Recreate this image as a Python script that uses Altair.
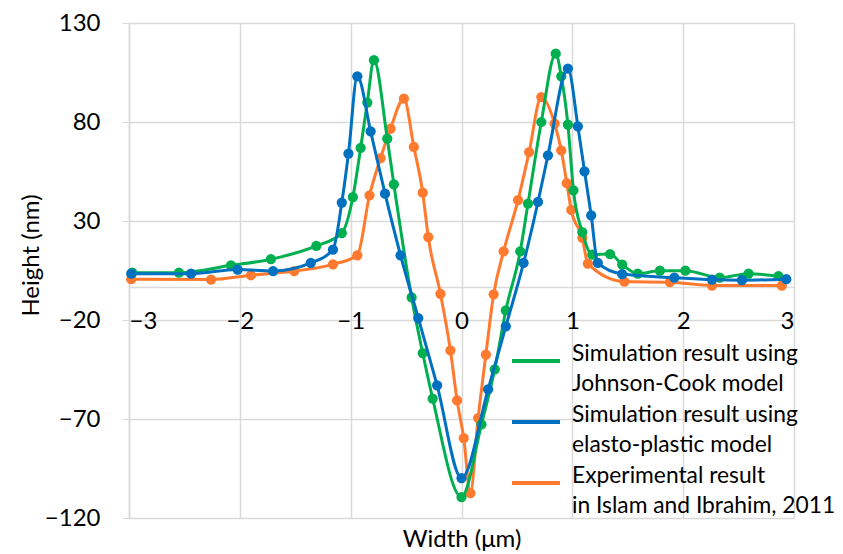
import altair as alt
import pandas as pd

# ---- data ----
series_names = [
    "Simulation result using|Johnson-Cook model",
    "Simulation result using|elasto-plastic model",
    "Experimental result|in Islam and Ibrahim, 2011",
]
series_colors = ["#00B050", "#0070C0", "#FF7A2F"]

jc_x = [-2.97, -2.55, -2.08, -1.72, -1.31, -1.08, -0.98, -0.91, -0.85, -0.79, -0.67, -0.61,
        -0.45, -0.35, -0.26, 0.00, 0.18, 0.30, 0.40, 0.53, 0.60, 0.72, 0.85, 0.90, 0.96,
        1.01, 1.09, 1.18, 1.34, 1.45, 1.59, 1.79, 2.02, 2.33, 2.59, 2.86]
jc_y = [3.9, 3.9, 7.6, 10.7, 17.4, 23.9, 42.1, 66.9, 89.8, 111.2, 71.6, 48.5,
        -8.6, -36.7, -59.7, -109.4, -72.7, -44.9, -15.1, 14.7, 38.8, 80.0, 114.5, 103.1, 78.7,
        45.5, 24.4, 13.0, 13.3, 8.0, 3.4, 4.9, 4.9, 1.4, 3.4, 2.1]

ep_x = [-2.98, -2.44, -2.02, -1.70, -1.36, -1.16, -1.08, -1.02, -0.94, -0.82, -0.69, -0.55,
        -0.39, -0.22, 0.00, 0.24, 0.40, 0.56, 0.69, 0.78, 0.96, 1.05, 1.11, 1.17, 1.23,
        1.45, 1.92, 2.26, 2.53, 2.93]
ep_y = [3.4, 3.4, 5.5, 4.7, 8.8, 15.6, 39.3, 64.0, 103.1, 75.3, 43.8, 12.7,
        -19.0, -53.0, -99.8, -55.0, -23.2, 8.8, 39.6, 63.2, 107.0, 77.8, 55.1, 32.9, 8.8,
        3.2, 1.4, 0.4, 0.1, 0.6]

ex_x = [-2.98, -2.26, -1.90, -1.51, -1.16, -0.94, -0.83, -0.73, -0.64, -0.52, -0.43, -0.35,
        -0.30, -0.19, -0.10, -0.04, 0.02, 0.08, 0.15, 0.22, 0.29, 0.38, 0.51, 0.61, 0.72,
        0.84, 0.90, 0.95, 0.99, 1.09, 1.14, 1.47, 1.88, 2.26, 2.89]
ex_y = [0.6, 0.4, 2.6, 4.7, 8.1, 12.7, 43.0, 61.8, 76.7, 91.8, 67.4, 44.3,
        21.9, -6.8, -35.3, -60.6, -79.6, -107.4, -69.5, -37.5, -7.0, 14.7, 40.5, 64.8, 92.6,
        79.2, 65.7, 49.1, 35.6, 21.5, 8.5, -0.6, -0.9, -2.6, -2.6]

x_ticks = [-3, -2, -1, 0, 1, 2, 3]
y_ticks = [-120, -70, -20, 30, 80, 130]

frames = []
for name, xs, ys in zip(series_names, [jc_x, ep_x, ex_x], [jc_y, ep_y, ex_y]):
    frames.append(pd.DataFrame({"x": xs, "y": ys, "series": name}))
df = pd.concat(frames, ignore_index=True)

FONT = "Lato"
GRID = "#D9D9D9"

color = alt.Color(
    "series:N",
    scale=alt.Scale(domain=series_names, range=series_colors),
    legend=alt.Legend(
        title=None,
        orient="none",
        legendX=381,
        legendY=312,
        symbolType="stroke",
        symbolSize=2304,
        symbolStrokeWidth=4,
        labelExpr="split(datum.label, '|')",
        labelFont=FONT,
        labelFontSize=22.8,
        labelColor="#000000",
        labelBaseline="alphabetic",
        labelLimit=400,
        labelOffset=10,
        rowPadding=-1,
        padding=0,
    ),
)

x_enc = alt.X(
    "x:Q",
    scale=alt.Scale(domain=[-3, 3], nice=False, zero=False),
    axis=alt.Axis(
        values=x_ticks,
        offset=-231,
        ticks=False,
        tickSize=0,
        labelPadding=22,
        labelFont=FONT,
        labelFontSize=24,
        labelColor="#000000",
        domainColor=GRID,
        domainWidth=1.5,
        gridColor=GRID,
        gridWidth=1.5,
        title="Width (μm)",
        titleFont=FONT,
        titleFontSize=24,
        titleFontWeight="normal",
        titleColor="#000000",
        titleY=240,
    ),
)
y_enc = alt.Y(
    "y:Q",
    scale=alt.Scale(domain=[-120, 130], nice=False, zero=False),
    axis=alt.Axis(
        values=y_ticks,
        tickSize=7,
        tickColor=GRID,
        labelPadding=22,
        labelFont=FONT,
        labelFontSize=24,
        labelColor="#000000",
        domainColor=GRID,
        domainWidth=1.5,
        gridColor=GRID,
        gridWidth=1.5,
        title="Height (nm)",
        titleFont=FONT,
        titleFontSize=24,
        titleFontWeight="normal",
        titleColor="#000000",
        titleX=-86,
        titleY=232,
    ),
)

layers = []
for name in [series_names[2], series_names[0], series_names[1]]:
    b = alt.Chart(df).transform_filter(alt.datum.series == name)
    layers.append(
        b.mark_line(interpolate="monotone", strokeWidth=3).encode(x=x_enc, y=y_enc, color=color)
    )
    layers.append(
        b.mark_point(filled=True, size=105, opacity=1).encode(x=x_enc, y=y_enc, color=color)
    )

chart = alt.layer(*layers).properties(
    width=665,
    height=495,
    autosize=alt.AutoSizeParams(type="none"),
    padding={"left": 121, "top": 15, "right": 41, "bottom": 36},
).configure(
    background="white",
    view=alt.ViewConfig(stroke=None),
    style={"guide-label": {"lineHeight": 30}},
)

chart.save("out.html", embed_options={"renderer": "svg", "actions": False})
